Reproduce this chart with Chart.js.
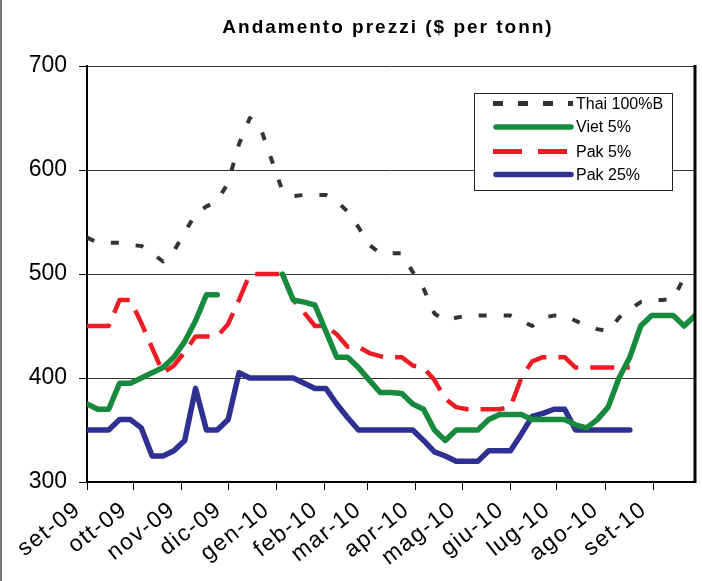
<!DOCTYPE html>
<html><head><meta charset="utf-8">
<script src="https://cdn.jsdelivr.net/npm/chart.js@4/dist/chart.umd.min.js"></script>
<style>html,body{margin:0;padding:0;background:#fff;}#wrap{width:702px;height:581px;position:relative;}</style>
</head><body><div id="wrap"><canvas id="c" width="702" height="581"></canvas></div>
<script>
const weekDates = [
"2009-09-01","2009-09-08","2009-09-15","2009-09-22","2009-09-29",
"2009-10-06","2009-10-13","2009-10-20","2009-10-27",
"2009-11-03","2009-11-10","2009-11-17","2009-11-24",
"2009-12-01","2009-12-08","2009-12-15","2009-12-22","2009-12-29",
"2010-01-05","2010-01-12","2010-01-19","2010-01-26",
"2010-02-02","2010-02-09","2010-02-16","2010-02-23",
"2010-03-02","2010-03-09","2010-03-16","2010-03-23","2010-03-30",
"2010-04-06","2010-04-13","2010-04-20","2010-04-27",
"2010-05-04","2010-05-11","2010-05-18","2010-05-25",
"2010-06-01","2010-06-08","2010-06-15","2010-06-22","2010-06-29",
"2010-07-06","2010-07-13","2010-07-20","2010-07-27",
"2010-08-03","2010-08-10","2010-08-17","2010-08-24","2010-08-31",
"2010-09-07","2010-09-14","2010-09-21","2010-09-28"];
const monthStarts = ["2009-09-01","2009-10-01","2009-11-01","2009-12-01","2010-01-01","2010-02-01","2010-03-01","2010-04-01","2010-05-01","2010-06-01","2010-07-01","2010-08-01","2010-09-01"];
const monthLabels = ["set-09","ott-09","nov-09","dic-09","gen-10","feb-10","mar-10","apr-10","mag-10","giu-10","lug-10","ago-10","set-10"];
const yTicks = [300,400,500,600,700];

const thai100B = [535,530,530,530,528,527,520,512,522,540,558,565,570,588,625,650,640,610,580,575,576,576,576,570,560,545,528,520,520,520,502,486,462,455,458,460,460,460,460,460,455,450,458,460,460,455,450,447,445,458,466,473,475,475,476,497,null];
const viet5 = [375,370,370,395,395,400,405,410,420,435,455,480,480,null,null,null,null,null,500,475,473,470,445,420,420,410,398,386,386,385,375,370,350,340,350,350,350,360,365,365,365,360,360,360,360,355,352,360,372,400,420,450,460,460,460,450,460];
const pak5 = [450,450,450,475,475,453,429,405,412,425,440,440,440,452,475,500,500,500,500,475,463,450,450,442,430,430,424,421,420,420,412,410,398,380,372,370,370,370,370,372,400,416,420,420,420,410,410,410,410,410,410,null,null,null,null,null,null];
const pak25 = [350,350,350,360,360,352,325,325,330,340,390,350,350,360,405,400,400,400,400,400,395,390,390,375,362,350,350,350,350,350,350,340,329,325,320,320,320,330,330,330,346,363,366,370,370,350,350,350,350,350,350,null,null,null,null,null,null];

const TITLE = 'Andamento prezzi ($ per tonn)';
const FONT = "'Liberation Sans', Arial, sans-serif";
const toUTC = s => { const p = s.split('-').map(Number); return Date.UTC(p[0], p[1]-1, p[2]); };
const origin = toUTC(monthStarts[0]);
const dayOf = s => Math.round((toUTC(s) - origin) / 86400000);
const xDays = weekDates.map(dayOf);
const monthDays = monthStarts.map(dayOf);
const pts = arr => arr.map((v, i) => ({x: xDays[i], y: v}));

const legendCfg = [
  {dash:[10,15], width:5, cap:'butt'},
  {dash:[], width:5.5, cap:'round'},
  {dash:[29,16], width:5, cap:'butt'},
  {dash:[], width:5.5, cap:'round'}
];
const legendRowsY = [103.5, 127, 151.5, 174.5];

const boxPlugin = {
  id: 'boxAndLegend',
  afterDraw(chart) {
    const ctx = chart.ctx, a = chart.chartArea;
    ctx.save();
    // outer frame edge on the left
    ctx.fillStyle = '#777'; ctx.fillRect(0, 0, 2, chart.height);
    // title centred over the plot
    ctx.fillStyle = '#000'; ctx.font = 'bold 19px ' + FONT;
    ctx.textAlign = 'center'; ctx.textBaseline = 'middle';
    try { ctx.letterSpacing = '2px'; } catch (e) {}
    ctx.fillText(TITLE, (a.left + a.right) / 2 - 3, 28);
    try { ctx.letterSpacing = '0px'; } catch (e) {}
    // right border
    ctx.strokeStyle = '#000'; ctx.lineWidth = 3;
    ctx.beginPath(); ctx.moveTo(a.right, a.top - 1); ctx.lineTo(a.right, a.bottom + 1); ctx.stroke();
    // legend box
    const bx = 474.5, by = 93.5, bw = 198, bh = 97;
    ctx.fillStyle = '#fff'; ctx.fillRect(bx, by, bw, bh);
    ctx.strokeStyle = '#222'; ctx.lineWidth = 1; ctx.strokeRect(bx, by, bw, bh);
    chart.data.datasets.forEach((ds, i) => {
      const y = legendRowsY[i], c = legendCfg[i];
      ctx.save();
      ctx.strokeStyle = ds.borderColor; ctx.lineWidth = c.width; ctx.lineCap = c.cap;
      ctx.setLineDash(c.dash);
      ctx.beginPath(); ctx.moveTo(c.cap === 'round' ? 496 : 493, y); ctx.lineTo(c.cap === 'round' ? 571 : 573, y); ctx.stroke();
      ctx.restore();
      ctx.fillStyle = '#000'; ctx.font = '16px ' + FONT; ctx.textBaseline = 'middle'; ctx.textAlign = 'left';
      ctx.fillText(ds.label, 576, y + 1);
    });
    ctx.restore();
  }
};

const chart = new Chart(document.getElementById('c'), {
  type: 'line',
  data: {
    datasets: [
      {label:'Thai 100%B', data: pts(thai100B), borderColor:'#333333', borderWidth:4, borderDash:[8,17], borderCapStyle:'butt'},
      {label:'Viet 5%', data: pts(viet5), borderColor:'#178a3e', borderWidth:5.5, borderCapStyle:'round'},
      {label:'Pak 5%', data: pts(pak5), borderColor:'#ed1c24', borderWidth:4.5, borderDash:[24,12], borderCapStyle:'butt'},
      {label:'Pak 25%', data: pts(pak25), borderColor:'#2e3192', borderWidth:5.5, borderCapStyle:'round'}
    ]
  },
  options: {
    responsive:false, animation:false, devicePixelRatio:1,
    spanGaps:false,
    elements:{point:{radius:0}, line:{tension:0, borderJoinStyle:'round', fill:false}},
    layout:{padding:{left:0, right:7, top:66, bottom:0}},
    plugins:{ legend:{display:false}, tooltip:{enabled:false}, title:{display:false} },
    scales:{
      x:{type:'linear', min:0, max:xDays[xDays.length-1],
        afterBuildTicks: s => { s.ticks = monthDays.map(v => ({value:v})); },
        afterFit: s => { s.height = 99; },
        ticks:{autoSkip:false, minRotation:38, maxRotation:38, color:'#000', padding:6, labelOffset:-9,
          font:{family:FONT, size:23}, callback:(v, i) => monthLabels[i]},
        grid:{drawOnChartArea:false, drawTicks:true, tickLength:8, color:'#000', lineWidth:1},
        border:{color:'#000', width:2}},
      y:{min:yTicks[0], max:yTicks[yTicks.length-1],
        afterBuildTicks: s => { s.ticks = yTicks.map(v => ({value:v})); },
        afterFit: s => { s.width = 87; },
        ticks:{color:'#000', padding:12, font:{family:FONT, size:23}},
        grid:{color:'#333', lineWidth:1, tickLength:8, tickColor:'#000'},
        border:{color:'#000', width:2}}
    }
  },
  plugins:[boxPlugin]
});
// slightly spaced-out month labels, as in the reference
const xs = chart.scales.x;
const origDrawLabels = xs.drawLabels.bind(xs);
xs.drawLabels = function(area) {
  const c = this.ctx; c.save();
  try { c.letterSpacing = '1.5px'; } catch (e) {}
  origDrawLabels(area);
  c.restore();
};
chart.draw();
</script>
</body></html>
